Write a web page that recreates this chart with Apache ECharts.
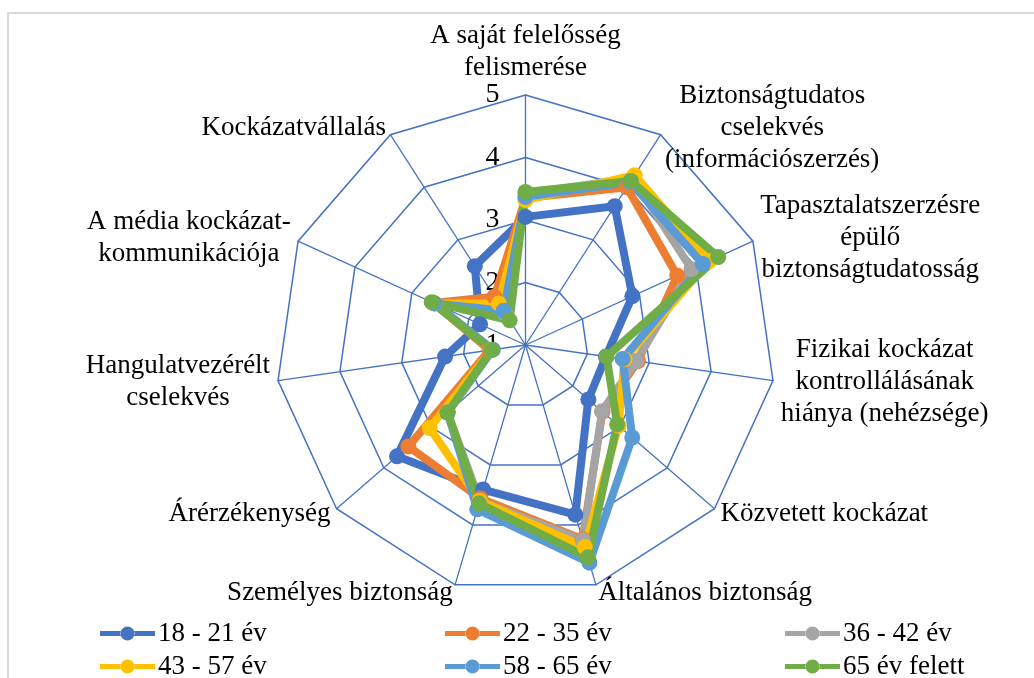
<!DOCTYPE html>
<html lang="hu">
  <head>
    <meta charset="UTF-8" />
    <title>Radar</title>
    <style>
      body { margin: 0; background: #fff; }
      #frame {
        position: absolute; left: 7px; top: 12px; width: 1100px; height: 700px;
        border-top: 2px solid #d9d9d9; border-left: 2px solid #d9d9d9;
      }
      #main { position: absolute; left: 0; top: 0; width: 1034px; height: 678px; }
    </style>
  </head>
  <body>
    <div id="frame"></div>
    <div id="main"></div>
    <script src="https://cdn.jsdelivr.net/npm/echarts@6/dist/echarts.min.js"></script>
    <script>
      // axes in clockwise order, starting at the top
      const axes = [
        "A saját felelősség\nfelismerése",
        "Biztonságtudatos\ncselekvés\n(információszerzés)",
        "Tapasztalatszerzésre\népülő\nbiztonságtudatosság",
        "Fizikai kockázat\nkontrollálásának\nhiánya (nehézsége)",
        "Közvetett kockázat",
        "Általános biztonság",
        "Személyes biztonság",
        "Árérzékenység",
        "Hangulatvezérélt\ncselekvés",
        "A média kockázat-\nkommunikációja",
        "Kockázatvállalás",
      ];
      const groups = ["18 - 21 év", "22 - 35 év", "36 - 42 év", "43 - 57 év", "58 - 65 év", "65 év felett"];
      const colors = ["#4472C4", "#ED7D31", "#A5A5A5", "#FFC000", "#5B9BD5", "#70AD47"];

      const age18_21 = [3.05, 3.64, 2.88, 2.3, 2.33, 3.83, 3.41, 3.72, 2.3, 1.8, 2.5];
      const age22_35 = [3.35, 4.0, 3.67, 2.82, 2.63, 4.24, 3.56, 3.48, 1.58, 2.62, 1.92];
      const age36_42 = [3.42, 4.17, 3.92, 2.79, 2.62, 4.26, 3.6, 2.65, 1.53, 2.6, 1.6];
      const age43_57 = [3.32, 4.23, 4.23, 2.6, 2.97, 4.37, 3.6, 3.03, 1.55, 2.6, 1.79];
      const age58_65 = [3.37, 4.1, 4.12, 2.57, 3.26, 4.63, 3.74, 2.65, 1.53, 2.6, 1.65];
      const age65plus = [3.45, 4.12, 4.39, 2.31, 2.94, 4.54, 3.64, 2.65, 1.55, 2.65, 1.47];
      const values = [age18_21, age22_35, age36_42, age43_57, age58_65, age65plus];

      const ticks = [1, 2, 3, 4, 5];

      // echarts lays indicators out counterclockwise, so keep the first and reverse the rest
      const order = [0].concat(axes.map((a, i) => i).slice(1).reverse());

      const font = "Liberation Serif";
      const legendIcon =
        "path://M0,4.5h21v5h-21z M34,4.5h21v5h-21z M20.5,7a7,7 0 1,0 14,0a7,7 0 1,0 -14,0z";

      const indicator = order.map((i, k) => {
        const ind = { name: axes[i], min: ticks[0], max: ticks[ticks.length - 1] };
        if (k === 0) ind.axisLabel = { show: true };
        return ind;
      });

      const series = groups.map((g, s) => ({
        name: g,
        type: "radar",
        symbol: "circle",
        symbolSize: 16,
        lineStyle: { width: 8, color: colors[s], opacity: 1 },
        itemStyle: { color: colors[s] },
        data: [{ name: g, value: order.map((i) => values[s][i]) }],
      }));

      // legend: 3 columns x 2 rows, one component per entry
      const legendLeft = [95, 440, 780];
      const legendTop = [615, 648];
      const legends = groups.map((g, s) => ({
        left: legendLeft[s % 3],
        top: legendTop[Math.floor(s / 3)],
        itemWidth: 55,
        itemHeight: 14,
        icon: legendIcon,
        data: [g],
        textStyle: { fontFamily: font, fontSize: 27, lineHeight: 26, color: "#000", padding: [0, 0, 0, -2] },
      }));

      const myChart = echarts.init(document.getElementById("main"));
      myChart.setOption({
        animation: false,
        color: colors,
        legend: legends,
        radar: {
          center: [525.5, 345],
          radius: 250,
          startAngle: 90,
          splitNumber: ticks.length - 1,
          shape: "polygon",
          nameGap: 8,
          indicator: indicator,
          axisName: {
            color: "#000",
            fontFamily: font,
            fontSize: 27,
            formatter: (name) => name.split("\n").map((l) => "{c|" + l + "}").join("\n"),
            rich: {
              c: { align: "center", fontFamily: font, fontSize: 27, lineHeight: 32, color: "#000" },
            },
          },
          axisLine: { lineStyle: { color: "#4472C4", width: 1.3 } },
          splitLine: { lineStyle: { color: "#4472C4", width: 1.5 } },
          splitArea: { show: false },
          axisTick: { show: false },
          axisLabel: {
            show: false,
            showMinLabel: true,
            showMaxLabel: true,
            color: "#000",
            fontFamily: font,
            fontSize: 28,
            margin: 26,
          },
        },
        series: series,
      });
    </script>
  </body>
</html>
